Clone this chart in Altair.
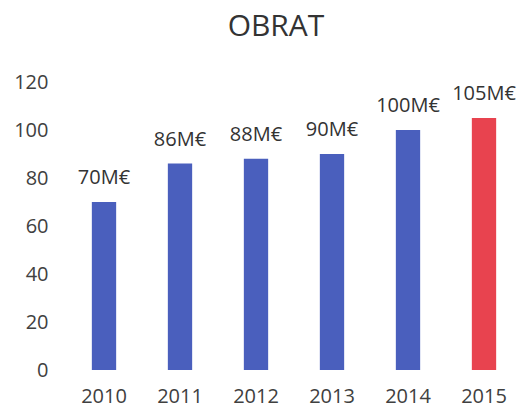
import altair as alt
import pandas as pd

years = ["2010", "2011", "2012", "2013", "2014", "2015"]
values = [70, 86, 88, 90, 100, 105]
labels = ["70M€", "86M€", "88M€", "90M€", "100M€", "105M€"]
colors = ["#4a5fbd", "#4a5fbd", "#4a5fbd", "#4a5fbd", "#4a5fbd", "#e8434f"]

df = pd.DataFrame({"year": years, "value": values, "label": labels, "color": colors})

base = alt.Chart(df).encode(
    x=alt.X("year:N", sort=years, title=None,
            scale=alt.Scale(paddingInner=0.68, paddingOuter=0.34),
            axis=alt.Axis(labelAngle=0, domain=False, ticks=False, labelPadding=16,
                          labelFontSize=20, labelColor="#404040", labelFont="Open Sans")),
    y=alt.Y("value:Q", title=None,
            scale=alt.Scale(domain=[0, 120]),
            axis=alt.Axis(values=[0, 20, 40, 60, 80, 100, 120], domain=False, ticks=False,
                          grid=False, labelPadding=18, labelFontSize=20,
                          labelColor="#404040", labelFont="Open Sans")),
)

bars = base.mark_bar().encode(color=alt.Color("color:N", scale=None))
text = base.mark_text(dy=-14, baseline="bottom", fontSize=20, color="#333333",
                      font="Open Sans").encode(text="label:N")

chart = (bars + text).properties(
    width=456, height=288,
    title=alt.TitleParams("OBRAT", fontSize=30, font="Open Sans", fontWeight="normal",
                          color="#333333", offset=30, dx=-18),
    autosize=alt.AutoSizeParams(type="none"),
    padding={"left": 66, "top": 82, "right": 6, "bottom": 44},
).configure_view(stroke=None)

chart.save("out.html", embed_options={"renderer": "svg", "actions": False})
